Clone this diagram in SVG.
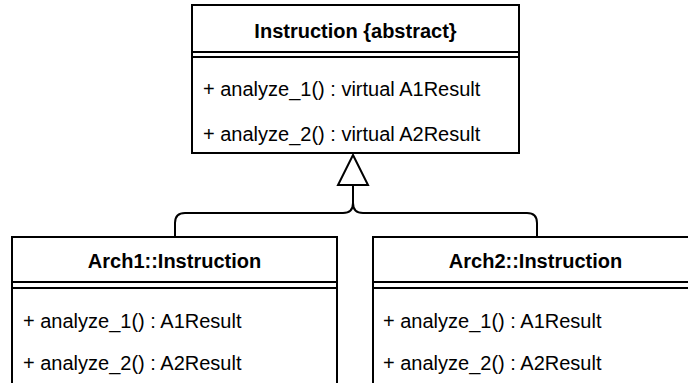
<svg xmlns="http://www.w3.org/2000/svg" width="688" height="383" viewBox="0 0 688 383">
  <style>
    .box { fill: #ffffff; stroke: #000000; stroke-width: 2; }
    .sep { stroke: #000000; stroke-width: 2; fill: none; }
    .title { font-family: "Liberation Sans", Arial, sans-serif; font-size: 20px; font-weight: bold; fill: #000000; text-anchor: middle; }
    .member { font-family: "Liberation Sans", Arial, sans-serif; font-size: 20px; fill: #000000; }
    .conn { stroke: #000000; stroke-width: 2; fill: none; }
    .head { stroke: #000000; stroke-width: 2; fill: #ffffff; stroke-linejoin: miter; }
  </style>
  <rect width="688" height="383" fill="#ffffff"/>

  <!-- abstract base class -->
  <g id="instruction">
    <rect class="box" x="192" y="5" width="327" height="148"/>
    <text class="title" x="355.5" y="38">Instruction {abstract}</text>
    <line class="sep" x1="192" y1="52" x2="519" y2="52"/>
    <line class="sep" x1="192" y1="57" x2="519" y2="57"/>
    <text class="member" x="203" y="96">+ analyze_1() : virtual A1Result</text>
    <text class="member" x="203" y="141">+ analyze_2() : virtual A2Result</text>
  </g>

  <!-- Arch1 implementation -->
  <g id="arch1-instruction">
    <rect class="box" x="12" y="237" width="325" height="170"/>
    <text class="title" x="174.5" y="268">Arch1::Instruction</text>
    <line class="sep" x1="12" y1="282" x2="337" y2="282"/>
    <line class="sep" x1="12" y1="288" x2="337" y2="288"/>
    <text class="member" x="23" y="328">+ analyze_1() : A1Result</text>
    <text class="member" x="23" y="370">+ analyze_2() : A2Result</text>
  </g>

  <!-- Arch2 implementation -->
  <g id="arch2-instruction">
    <rect class="box" x="373" y="237" width="325" height="170"/>
    <text class="title" x="535.5" y="268">Arch2::Instruction</text>
    <line class="sep" x1="373" y1="282" x2="698" y2="282"/>
    <line class="sep" x1="373" y1="288" x2="698" y2="288"/>
    <text class="member" x="383" y="328">+ analyze_1() : A1Result</text>
    <text class="member" x="383" y="370">+ analyze_2() : A2Result</text>
  </g>

  <!-- generalization connectors -->
  <g id="connectors">
    <path class="conn" d="M353,185 V203 Q353,213 343,213 H185 Q175,213 175,223 V237"/>
    <path class="conn" d="M353,203 Q353,213 363,213 H527 Q537,213 537,223 V237"/>
    <polygon class="head" points="353,155 368,185 338,185"/>
  </g>
</svg>
